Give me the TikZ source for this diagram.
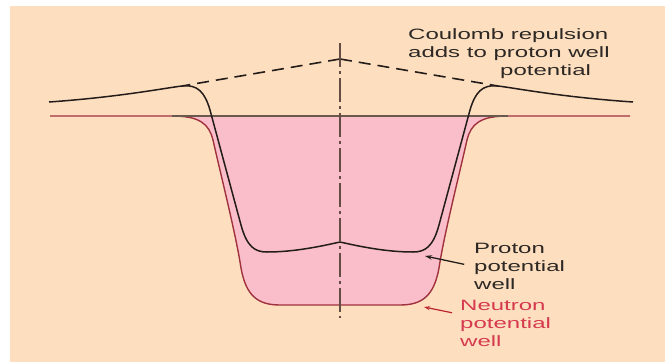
\documentclass[tikz,border=0pt]{standalone}
\usepackage{fontspec}
\setmainfont{Liberation Sans}[FakeStretch=1.6]
\usetikzlibrary{arrows.meta}
\definecolor{peach}{RGB}{253,223,192}
\definecolor{wellpink}{RGB}{249,190,201}
\definecolor{neutronred}{RGB}{160,50,62}
\definecolor{neutrontext}{RGB}{214,58,78}
\definecolor{protondark}{RGB}{35,28,25}
\definecolor{protontext}{RGB}{45,40,36}
\definecolor{zeroline}{RGB}{105,88,76}
\definecolor{axisbrown}{RGB}{100,76,68}
\begin{document}
\begin{tikzpicture}[x=1pt,y=-1pt,
	textlbl/.style={font=\fontsize{15}{18}\selectfont, align=left, anchor=west, inner sep=2pt},
	centreaxis/.style={axisbrown, line width=1.8pt, dash pattern=on 24pt off 4pt on 3pt off 4pt},
	coulombline/.style={protondark, line width=1.6pt, dash pattern=on 12pt off 7pt},
	protonline/.style={protondark, line width=1.5pt},
	neutronline/.style={neutronred, line width=1.4pt},
	parrow/.style={-{Stealth[length=7pt,width=4.5pt]}, protondark, line width=1.3pt},
	narrow/.style={-{Stealth[length=6pt,width=4pt]}, neutronred!70!red, line width=1.2pt}]
	\newcommand{\zerolevel}{116}
	\newcommand{\midx}{340}
	%background
	\useasboundingbox (0,0) rectangle (665,362);
	\fill [peach] (10,6) rectangle (665,362);
	%neutron well
	\draw [neutronline, fill=wellpink] (50,\zerolevel) -- (172,\zerolevel)
	.. controls (200,\zerolevel) and (209,124) .. (213,140)
	.. controls (222,180) and (236,235) .. (241,268)
	.. controls (246,296) and (258,305) .. (280,305) -- (400,305)
	.. controls (422,305) and (434,296) .. (439,268)
	.. controls (444,235) and (458,180) .. (467,140)
	.. controls (471,124) and (480,\zerolevel) .. (508,\zerolevel) -- (630,\zerolevel);
	\draw [zeroline, line width=1.3pt] (172,\zerolevel) -- (508,\zerolevel);
	%proton well
	\draw [protonline] (49,102) .. controls (120,97) and (165,88) .. (182,86)
	.. controls (198,84) and (205,93) .. (210,110) -- (241,225)
	.. controls (247,247) and (255,252) .. (267,252)
	.. controls (295,252) and (322,246) .. (\midx,242)
	.. controls (358,246) and (385,252) .. (413,252)
	.. controls (425,252) and (433,247) .. (439,225) -- (470,110)
	.. controls (475,93) and (482,84) .. (498,86)
	.. controls (515,88) and (560,97) .. (633,102);
	%coulomb part
	\coordinate (lpeak) at (182,86);
	\coordinate (rpeak) at (498,86);
	\coordinate (apex) at (\midx,59);
	\draw [coulombline] (apex) -- (lpeak);
	\draw [coulombline] (apex) -- (rpeak);
	%centre line
	\coordinate (axtop) at (\midx,43);
	\coordinate (axbot) at (\midx,318);
	\draw [centreaxis] (axtop) -- (axbot);
	%labels
	\node [textlbl, text=protontext] (coulomb) at (406,54)
	{Coulomb repulsion\\adds to proton well\\\hspace*{92pt}potential};
	\node [textlbl, text=protontext] (proton) at (472,266) {Proton\\potential\\well};
	\node [textlbl, text=neutrontext] (neutron) at (458,323) {Neutron\\potential\\well};
	%arrows
	\coordinate (ptip) at (425,256);
	\coordinate (ntip) at (424,307);
	\draw [parrow, shorten <=8pt] (proton.west) -- (ptip);
	\draw [narrow, shorten <=6pt] ([yshift=9pt]neutron.west) -- (ntip);
\end{tikzpicture}
\end{document}
